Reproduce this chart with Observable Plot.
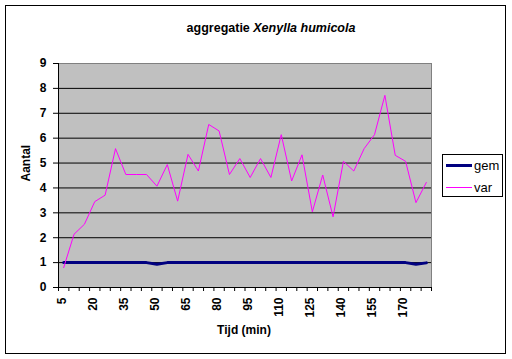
<!DOCTYPE html>
<html>
<head>
<meta charset="utf-8">
<script src="https://cdn.jsdelivr.net/npm/d3@7"></script>
<script src="https://cdn.jsdelivr.net/npm/@observablehq/plot@0.6"></script>
<style>
  html, body { margin: 0; padding: 0; background: #fff; }
  #wrap { position: relative; width: 512px; height: 359px; overflow: hidden;
          font-family: Arial, "Liberation Sans", sans-serif; }
  #chart { position: absolute; left: 0; top: 0; }
  #frame { position: absolute; left: 5px; top: 5px; width: 499px; height: 347px;
           border: 1px solid #000; pointer-events: none; }
  #title { position: absolute; left: 15px; top: 21px; width: 512px; text-align: center;
           font-size: 12.5px; font-weight: bold; line-height: 14px; color: #000; }
  #legend { position: absolute; left: 442px; top: 154px; }
</style>
</head>
<body>
<div id="wrap">
  <div id="chart"></div>
  <div id="title">aggregatie <i>Xenylla humicola</i></div>
  <div id="legend"></div>
  <div id="frame"></div>
</div>
<script>
// ---- data ----
const times = [5,10,15,20,25,30,35,40,45,50,55,60,65,70,75,80,85,90,95,100,105,110,115,120,125,130,135,140,145,150,155,160,165,170,175,180];
const gem   = [1,1,1,1,1,1,1,1,1,0.93,1,1,1,1,1,1,1,1,1,1,1,1,1,1,1,1,1,1,1,1,1,1,1,1,0.93,0.99];
const varValues = [0.8,2.14,2.54,3.45,3.71,5.58,4.54,4.54,4.54,4.07,4.94,3.47,5.35,4.68,6.55,6.29,4.54,5.18,4.42,5.18,4.42,6.14,4.28,5.33,3.04,4.52,2.84,5.07,4.68,5.58,6.14,7.72,5.31,5.07,3.41,4.22];
const xTickLabels = [5,20,35,50,65,80,95,110,125,140,155,170];
const yTicks = [0,1,2,3,4,5,6,7,8,9];
const seriesNames = ["gem","var"];
const seriesColors = ["#000080","#ff00ff"];
const seriesWidths = [3,1];

const rows = times.map((t, i) => ({i, t, gem: gem[i], var: varValues[i]}));

const chart = Plot.plot({
  width: 512,
  height: 359,
  marginLeft: 58,
  marginRight: 81,
  marginTop: 63,
  marginBottom: 72,
  style: {fontFamily: "Arial, 'Liberation Sans', sans-serif", fontSize: "12px", background: "transparent", color: "#000", overflow: "visible"},
  x: {type: "linear", domain: [-0.5, times.length - 0.5]},
  y: {domain: [0, 9]},
  marks: [
    Plot.frame({fill: "#c0c0c0", stroke: "#808080"}),
    Plot.ruleY(yTicks.filter(v => v > 0 && v < 9), {stroke: "#000", strokeWidth: 1}),
    Plot.ruleY([0], {stroke: "#000"}),
    Plot.ruleX([-0.5], {stroke: "#000"}),
    Plot.line(rows, {x: "i", y: "gem", stroke: seriesColors[0], strokeWidth: seriesWidths[0]}),
    Plot.line(rows, {x: "i", y: "var", stroke: seriesColors[1], strokeWidth: seriesWidths[1]}),
    Plot.axisY({ticks: yTicks, tickSize: 5, tickPadding: 7, fontWeight: "bold", fontSize: 12, label: null, stroke: "#000"}),
    Plot.axisX({ticks: d3.range(-0.5, times.length, 1), tickSize: 4, tickFormat: () => "", label: null, stroke: "#000"}),
    Plot.axisX({ticks: xTickLabels.map(v => times.indexOf(v)), tickSize: 0, tickPadding: 10, tickRotate: -90,
                tickFormat: i => String(times[i]), fontWeight: "bold", fontSize: 12, label: null, dx: -2}),
    Plot.text(["Aantal"], {frameAnchor: "left", dx: -32, dy: 6, rotate: -90, fontWeight: "bold", fontSize: 12, text: d => d}),
    Plot.text(["Tijd (min)"], {frameAnchor: "bottom", dx: -1, dy: 46, fontWeight: "bold", fontSize: 12, text: d => d})
  ]
});
document.getElementById("chart").appendChild(chart);

// ---- legend ----
const lg = d3.select("#legend").append("svg").attr("width", 61).attr("height", 44);
lg.append("rect").attr("x", 0.5).attr("y", 0.5).attr("width", 60).attr("height", 42)
  .attr("fill", "#fff").attr("stroke", "#000");
seriesNames.forEach((name, k) => {
  const yy = 11.5 + k * 22;
  lg.append("line").attr("x1", 4).attr("x2", 30).attr("y1", yy).attr("y2", yy)
    .attr("stroke", seriesColors[k]).attr("stroke-width", seriesWidths[k]);
  lg.append("text").attr("x", 32).attr("y", yy + 4.5).text(name)
    .attr("font-family", "Arial, 'Liberation Sans', sans-serif").attr("font-size", 13).attr("fill", "#000");
});
</script>
</body>
</html>
